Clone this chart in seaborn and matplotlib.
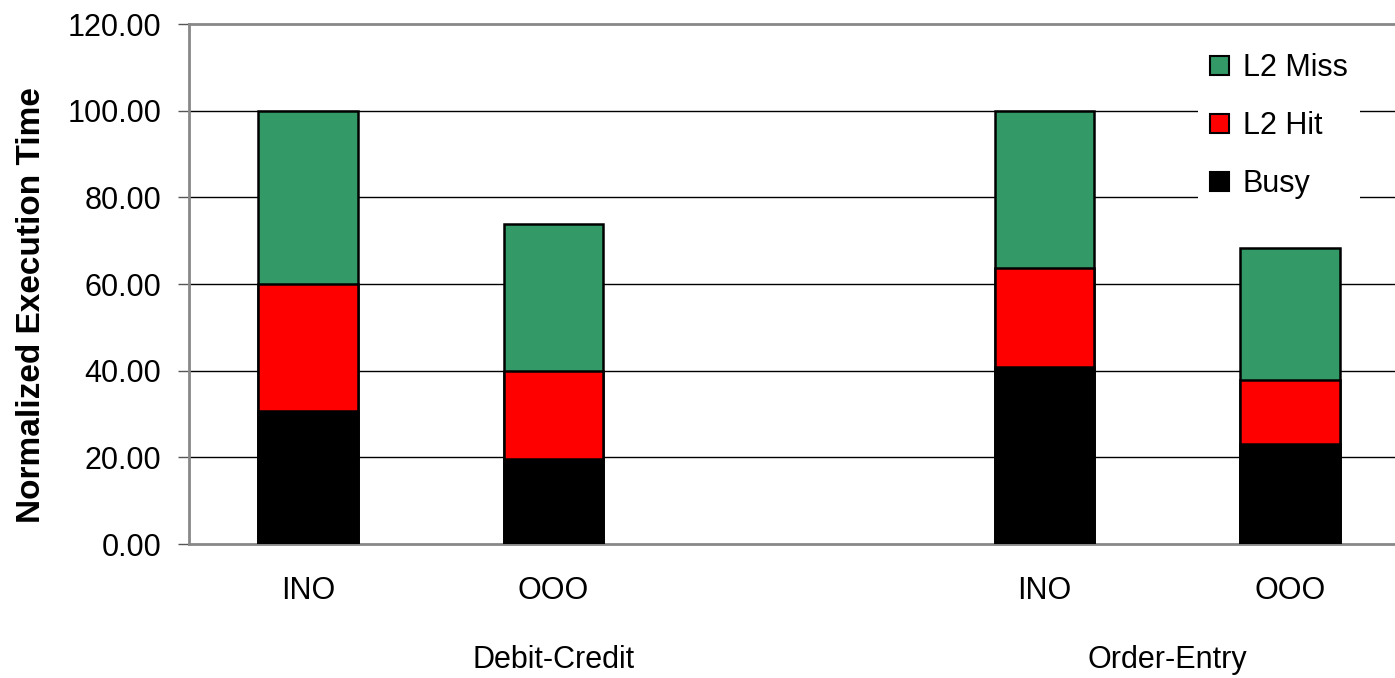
import matplotlib
matplotlib.use("Agg")
import matplotlib.pyplot as plt
import seaborn as sns
import pandas as pd
import numpy as np
from matplotlib.patches import Patch

# ---- data ----
bar_labels = ["INO", "OOO", "INO", "OOO"]
groups = ["Debit-Credit", "Order-Entry"]
busy = [30.6, 19.6, 40.9, 23.1]
l2_hit = [29.3, 20.3, 22.7, 14.8]
l2_miss = [40.1, 33.9, 36.4, 30.5]
series_names = ["L2 Miss", "L2 Hit", "Busy"]
colors = {"L2 Miss": "#339966", "L2 Hit": "#FF0000", "Busy": "#000000"}
yticks = [0, 20, 40, 60, 80, 100, 120]

positions = [0, 1, 3, 4]

sns.set_theme(style="white")
plt.rcParams["font.family"] = ["Liberation Sans", "DejaVu Sans"]
plt.rcParams["text.color"] = "black"
plt.rcParams["xtick.color"] = "black"
plt.rcParams["ytick.color"] = "black"
plt.rcParams["axes.labelcolor"] = "black"

FS = 22

fig = plt.figure(figsize=(13.95, 6.78), dpi=100)
ax = fig.add_axes([189 / 1395, 1 - 544 / 678, 1 - 189 / 1395, (544 - 24) / 678])

busy_a = np.array(busy)
hit_top = busy_a + np.array(l2_hit)
total = hit_top + np.array(l2_miss)

df = pd.DataFrame({"pos": positions, "Busy": busy_a, "Hit": hit_top, "Total": total})

for col, name in [("Total", "L2 Miss"), ("Hit", "L2 Hit"), ("Busy", "Busy")]:
    sns.barplot(data=df, x="pos", y=col, native_scale=True, width=0.407,
                color=colors[name], saturation=1, edgecolor="black",
                linewidth=1.8, ax=ax, zorder=3)

ax.set_ylim(0, 120)
ax.set_yticks(yticks)
ax.set_yticklabels([f"{v:.2f}" for v in yticks], fontsize=FS)
ax.set_xlim(-0.485, 4.428)
ax.set_xticks(positions)
ax.set_xticklabels(bar_labels, fontsize=FS)
ax.tick_params(axis="x", length=0, pad=23)
ax.tick_params(axis="y", length=8, width=1, color="#555555", left=True, pad=12)

for v in yticks[1:-1]:
    ax.axhline(v, color="black", linewidth=1.0, zorder=1)

for side in ["left", "bottom", "top"]:
    ax.spines[side].set_color("#888888")
    ax.spines[side].set_linewidth(2)
ax.spines["right"].set_visible(False)

ax.set_xlabel("")
ax.set_ylabel("Normalized Execution Time", fontsize=24, fontweight="bold")
ax.yaxis.set_label_coords(-0.118, 0.46)

# group labels
ax.text(1, -0.223, groups[0], transform=ax.get_xaxis_transform(), ha="center", va="center", fontsize=FS)
ax.text(3.5, -0.223, groups[1], transform=ax.get_xaxis_transform(), ha="center", va="center", fontsize=FS)

handles = [Patch(facecolor=colors[n], edgecolor="black", linewidth=1.5, label=n) for n in series_names]
leg = ax.legend(handles=handles, loc="upper left", bbox_to_anchor=(1198 / 1395, 1 - 41 / 678),
                bbox_transform=fig.transFigure, fontsize=FS, frameon=True, fancybox=False,
                edgecolor="none", facecolor="white", framealpha=1, handlelength=0.6,
                handleheight=0.6, handletextpad=0.46, labelspacing=0.92, borderpad=0.4,
                borderaxespad=0)
leg.set_zorder(5)

fig.savefig("out.png", dpi=100)
